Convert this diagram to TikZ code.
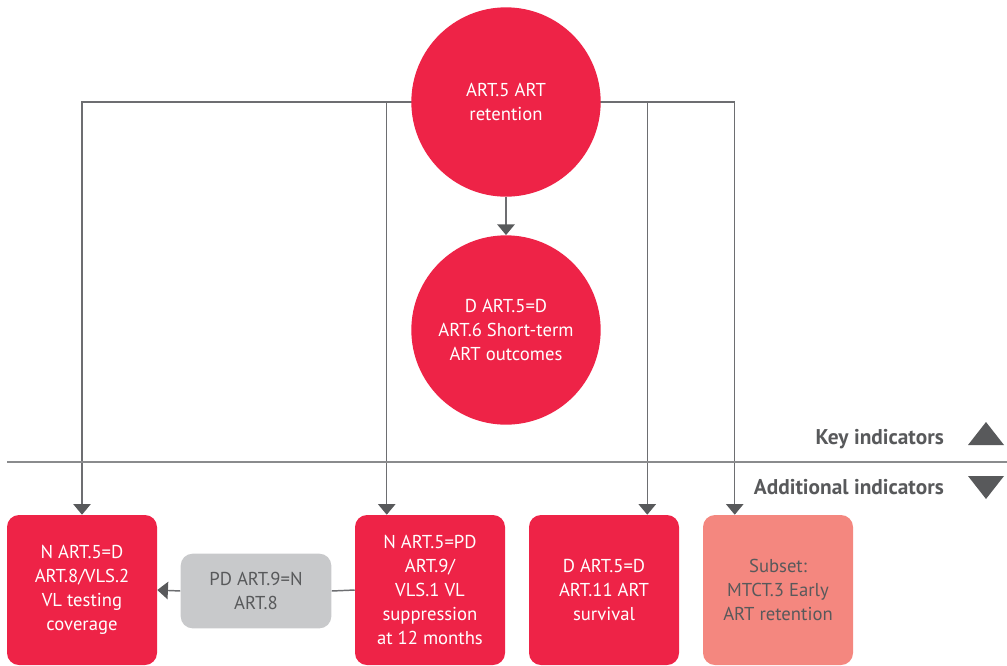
\documentclass[tikz,border=0pt]{standalone}
\usepackage{fontspec}
\setmainfont{PT Sans}
\usetikzlibrary{arrows.meta,backgrounds,calc}
\definecolor{artred}{HTML}{EE2347}
\definecolor{salmon}{HTML}{F4877F}
\definecolor{boxgray}{HTML}{C8C9CB}
\definecolor{txtgray}{HTML}{58595B}
\definecolor{linegray}{HTML}{6D6E71}
\tikzset{
  circ/.style={circle,fill=artred,minimum size=142pt,inner sep=0pt,text=white,align=center,font=\fontsize{14}{18}\selectfont},
  redbox/.style={rectangle,rounded corners=9pt,fill=artred,minimum width=112.5pt,minimum height=112.5pt,inner sep=0pt,text=white,align=center,font=\fontsize{14}{18}\selectfont},
  pinkbox/.style={redbox,fill=salmon,text=txtgray},
  graybox/.style={rectangle,rounded corners=9pt,fill=boxgray,minimum width=113pt,minimum height=56pt,inner sep=0pt,text=txtgray,align=center,font=\fontsize{14}{18}\selectfont},
  conn/.style={draw=linegray,line width=1.1pt},
  arr/.style={conn,-{Triangle[width=13pt,length=8pt,color=txtgray]}},
  legend/.style={text=txtgray,font=\fontsize{16}{18}\selectfont\bfseries,anchor=east,inner sep=0pt}
}
\begin{document}
\begin{tikzpicture}[x=0.75pt,y=-0.75pt]
\useasboundingbox (0,0) rectangle (1007,665);
\node[circ] (c1) at (506,102) {ART.5 ART\\retention};
\node[circ] (c2) at (506,330) {D ART.5=D\\ART.6 Short-term\\ART outcomes};
\node[redbox] (b1) at (82,590) {N ART.5=D\\ART.8/VLS.2\\VL testing\\coverage};
\node[graybox] (g) at (256,591) {PD ART.9=N\\ART.8};
\node[redbox] (b2) at (430,590) {N ART.5=PD\\ART.9/\\VLS.1 VL\\suppression\\at 12 months};
\node[redbox] (b3) at (604,590) {D ART.5=D\\ART.11 ART\\survival};
\node[pinkbox] (b4) at (778,590) {Subset:\\MTCT.3 Early\\ART retention};
\begin{pgfonlayer}{background}
\coordinate (t1) at (b1.north);
\coordinate (t2) at ($(b2.north west)+(32,0)$);
\coordinate (t3) at ($(b3.north east)+(-32,0)$);
\coordinate (t4) at ($(b4.north west)+(32,0)$);
\draw[arr] (c1.center) -| (t1);
\draw[arr] (c1.center) -| (t2);
\draw[arr] (c1.center) -| (t3);
\draw[arr] (c1.center) -| (t4);
\draw[arr] (c1.south) -- (c2.north);
\draw[conn] (b2.west) -- (g.east);
\draw[arr] (g.west) -- (b1.east);
\end{pgfonlayer}
\coordinate (s1) at (7,462);
\coordinate (s2) at (1007,462);
\draw[draw=linegray!80,line width=1.5pt] (s1) -- (s2);
\node[legend] (k) at (944,439) {Key indicators};
\node[legend] (a) at (944,487) {Additional indicators};
\fill[txtgray] (968,445) -- (1004,445) -- (986,422) -- cycle;
\fill[txtgray] (968,476) -- (1004,476) -- (986,499) -- cycle;
\end{tikzpicture}
\end{document}
